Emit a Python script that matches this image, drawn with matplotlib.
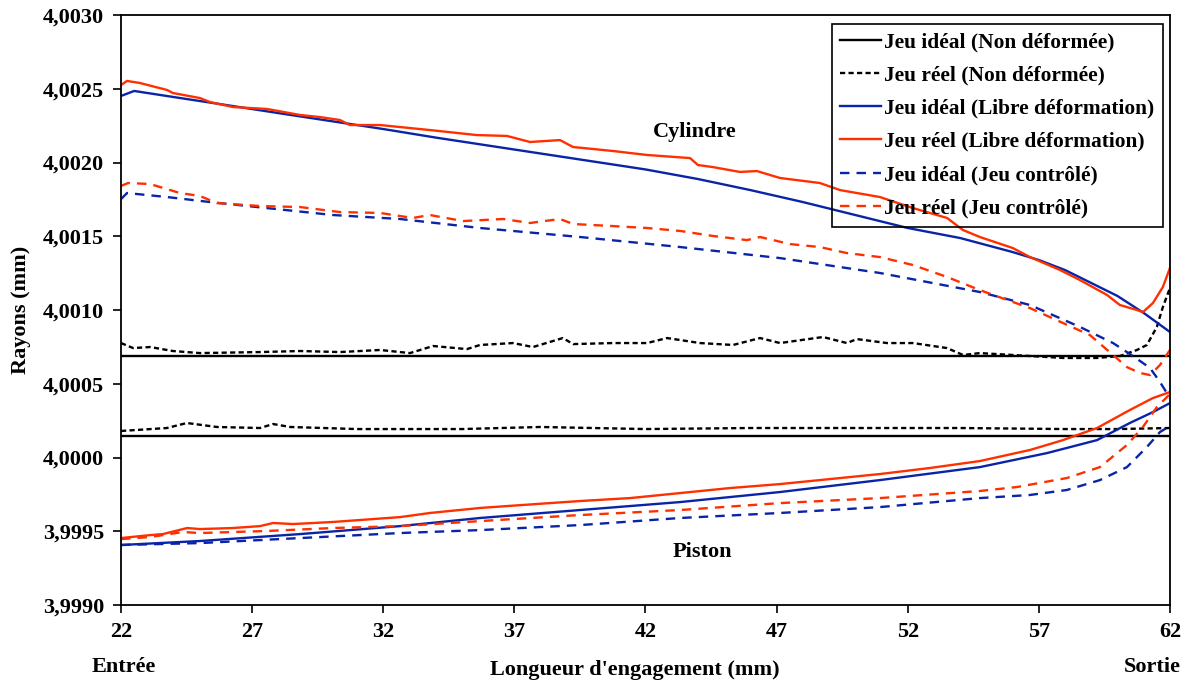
import matplotlib
matplotlib.use("Agg")
import matplotlib.pyplot as plt
from matplotlib.ticker import FuncFormatter, MultipleLocator

plt.rcParams['font.family'] = ['Liberation Serif', 'DejaVu Serif']
plt.rcParams['font.weight'] = 'bold'

# ---- data (mm) ----
x_ticks = [22, 27, 32, 37, 42, 47, 52, 57, 62]

ideal_nd_x = [22, 62]
ideal_nd_cyl = [4.000685, 4.000685]
ideal_nd_pis = [4.000143, 4.000143]

reel_nd_cyl_x = [22.00, 22.46, 23.11, 23.98, 25.01, 27.30, 28.83, 30.35, 31.88, 33.02, 33.90,
                 35.19, 35.69, 36.95, 37.71, 38.85, 39.24, 40.76, 42.06, 42.82, 44.08, 45.34,
                 46.37, 47.13, 48.77, 49.68, 50.06, 51.21, 52.20, 53.50, 54.11, 54.75, 56.01,
                 57.92, 59.22, 60.09, 60.74, 61.12, 61.50, 61.73, 62.00]
reel_nd_cyl = [4.000776, 4.000742, 4.000749, 4.000722, 4.000708, 4.000715, 4.000722, 4.000715,
               4.000729, 4.000708, 4.000756, 4.000735, 4.000763, 4.000776, 4.000749, 4.000810,
               4.000769, 4.000776, 4.000776, 4.000810, 4.000776, 4.000763, 4.000810, 4.000776,
               4.000817, 4.000776, 4.000803, 4.000776, 4.000776, 4.000742, 4.000695, 4.000708,
               4.000695, 4.000675, 4.000675, 4.000688, 4.000729, 4.000763, 4.000885, 4.001020,
               4.001149]

reel_nd_pis_x = [22.00, 23.75, 24.51, 25.66, 27.30, 27.80, 28.45, 31.0, 35.0, 38.0, 42.0,
                 46.0, 50.0, 54.0, 58.0, 60.0, 62.0]
reel_nd_pis = [4.000180, 4.000200, 4.000234, 4.000207, 4.000200, 4.000227, 4.000207, 4.000193,
               4.000193, 4.000207, 4.000193, 4.000200, 4.000200, 4.000200, 4.000193, 4.000193,
               4.000200]

ideal_lib_cyl_x = [22.0, 22.5, 24, 26, 28, 30, 32, 34, 36, 38, 40, 42, 44, 46, 48, 50, 52, 54,
                   56, 57, 58, 59, 60, 61, 62]
ideal_lib_cyl = [4.002451, 4.002485, 4.002444, 4.002390, 4.002335, 4.002281, 4.002227, 4.002169,
                 4.002115, 4.002061, 4.002007, 4.001953, 4.001888, 4.001813, 4.001732, 4.001644,
                 4.001556, 4.001488, 4.001393, 4.001339, 4.001271, 4.001183, 4.001095, 4.000980,
                 4.000851]

reel_lib_cyl_x = [22.00, 22.23, 22.72, 23.75, 23.98, 25.01, 25.39, 26.27, 27.57, 28.83, 29.59,
                  30.35, 30.73, 31.88, 33.78, 35.57, 36.72, 37.60, 38.74, 39.24, 40.76, 42.06,
                  43.70, 44.00, 44.57, 45.60, 46.25, 47.13, 48.65, 49.42, 50.94, 52.20, 53.50,
                  54.11, 54.75, 56.01, 56.66, 57.81, 58.57, 59.60, 60.09, 60.74, 60.97, 61.35,
                  61.73, 62.00]
reel_lib_cyl = [4.002525, 4.002553, 4.002539, 4.002492, 4.002471, 4.002437, 4.002410, 4.002376,
                4.002363, 4.002322, 4.002308, 4.002288, 4.002254, 4.002254, 4.002220, 4.002186,
                4.002180, 4.002139, 4.002152, 4.002105, 4.002078, 4.002051, 4.002030, 4.001983,
                4.001969, 4.001936, 4.001942, 4.001895, 4.001861, 4.001813, 4.001766, 4.001691,
                4.001624, 4.001542, 4.001495, 4.001420, 4.001359, 4.001271, 4.001203, 4.001102,
                4.001034, 4.001000, 4.000986, 4.001047, 4.001156, 4.001285]

ideal_ctl_cyl_x = [22.00, 22.23, 23.75, 25.39, 27.57, 30.08, 32.64, 35.69, 39.50, 43.32, 47.13,
                   50.94, 54.75, 56.66, 58.57, 59.83, 60.59, 61.24, 61.62, 62.00]
ideal_ctl_cyl = [4.001752, 4.001793, 4.001766, 4.001732, 4.001691, 4.001644, 4.001617, 4.001556,
                 4.001495, 4.001427, 4.001352, 4.001251, 4.001122, 4.001034, 4.000885, 4.000776,
                 4.000688, 4.000607, 4.000512, 4.000403]

reel_ctl_cyl_x = [22.00, 22.27, 23.11, 24.25, 25.01, 25.66, 27.30, 28.83, 30.35, 31.88, 33.13,
                  33.78, 35.04, 36.57, 37.60, 38.74, 39.24, 40.76, 42.06, 43.32, 44.57, 45.87,
                  46.37, 47.51, 48.65, 49.68, 50.94, 52.20, 53.50, 54.75, 56.66, 57.92, 58.95,
                  59.83, 60.36, 60.86, 61.24, 61.62, 62.00]
reel_ctl_cyl = [4.001841, 4.001861, 4.001854, 4.001793, 4.001773, 4.001725, 4.001705, 4.001698,
                4.001664, 4.001658, 4.001624, 4.001644, 4.001603, 4.001617, 4.001590, 4.001617,
                4.001583, 4.001569, 4.001556, 4.001536, 4.001502, 4.001474, 4.001495, 4.001447,
                4.001427, 4.001386, 4.001359, 4.001305, 4.001224, 4.001135, 4.001013, 4.000912,
                4.000830, 4.000695, 4.000613, 4.000573, 4.000559, 4.000627, 4.000729]

ideal_lib_pis_x = [22.00, 25.01, 28.83, 32.64, 35.69, 39.50, 43.32, 47.13, 50.94, 54.75, 57.31,
                   59.22, 60.47, 61.35, 62.00]
ideal_lib_pis = [3.999407, 3.999434, 3.999481, 3.999535, 3.999590, 3.999644, 3.999698, 3.999766,
                 3.999847, 3.999935, 4.000030, 4.000118, 4.000234, 4.000308, 4.000369]

reel_lib_pis_x = [22.00, 23.11, 23.60, 24.52, 25.01, 26.27, 27.30, 27.80, 28.56, 30.08, 32.64,
                  33.78, 35.69, 37.86, 39.50, 41.41, 43.32, 45.22, 47.13, 49.04, 50.94, 52.85,
                  54.75, 56.66, 57.92, 59.22, 60.47, 61.35, 62.00]
reel_lib_pis = [3.999454, 3.999474, 3.999481, 3.999522, 3.999515, 3.999522, 3.999535, 3.999556,
                3.999549, 3.999563, 3.999596, 3.999624, 3.999658, 3.999685, 3.999705, 3.999725,
                3.999759, 3.999793, 3.999820, 3.999854, 3.999888, 3.999929, 3.999976, 4.000051,
                4.000118, 4.000200, 4.000322, 4.000403, 4.000444]

ideal_ctl_pis_x = [22.00, 25.01, 28.83, 32.64, 35.69, 39.50, 43.32, 47.13, 50.94, 54.75, 56.66,
                   58.07, 59.33, 60.36, 61.12, 61.62, 62.00]
ideal_ctl_pis = [3.999407, 3.999420, 3.999454, 3.999488, 3.999508, 3.999542, 3.999590, 3.999624,
                 3.999664, 3.999725, 3.999746, 3.999780, 3.999847, 3.999935, 4.000071, 4.000173,
                 4.000213]

reel_ctl_pis_x = [22.00, 23.11, 24.36, 25.01, 27.57, 30.08, 32.64, 35.69, 39.50, 43.32, 47.13,
                  50.94, 54.75, 56.17, 58.07, 59.33, 60.36, 60.97, 61.50, 62.00]
reel_ctl_pis = [3.999447, 3.999461, 3.999495, 3.999488, 3.999502, 3.999522, 3.999535, 3.999569,
                3.999610, 3.999644, 3.999691, 3.999725, 3.999773, 3.999800, 3.999861, 3.999935,
                4.000085, 4.000207, 4.000342, 4.000430]

labels = ["Jeu idéal (Non déformée)", "Jeu réel (Non déformée)",
          "Jeu idéal (Libre déformation)", "Jeu réel (Libre déformation)",
          "Jeu idéal (Jeu contrôlé)", "Jeu réel (Jeu contrôlé)"]

BLUE = '#0a24a8'
RED = '#ff3000'
lw = 1.7
dash_black = (0, (2.2, 1.4))
dash_color = (0, (4.0, 3.0))

fig = plt.figure(figsize=(11.97, 6.88), dpi=100)
ax = fig.add_axes([0.1011, 0.1206, 0.8763, 0.8576])

# cylinder (upper) and piston (lower) for each case
l1, = ax.plot(ideal_nd_x, ideal_nd_cyl, color='black', lw=lw, label=labels[0])
ax.plot(ideal_nd_x, ideal_nd_pis, color='black', lw=lw)
l2, = ax.plot(reel_nd_cyl_x, reel_nd_cyl, color='black', lw=lw, ls=dash_black, label=labels[1])
ax.plot(reel_nd_pis_x, reel_nd_pis, color='black', lw=lw, ls=dash_black)
l3, = ax.plot(ideal_lib_cyl_x, ideal_lib_cyl, color=BLUE, lw=lw, label=labels[2])
ax.plot(ideal_lib_pis_x, ideal_lib_pis, color=BLUE, lw=lw)
l4, = ax.plot(reel_lib_cyl_x, reel_lib_cyl, color=RED, lw=lw, label=labels[3])
ax.plot(reel_lib_pis_x, reel_lib_pis, color=RED, lw=lw)
l5, = ax.plot(ideal_ctl_cyl_x, ideal_ctl_cyl, color=BLUE, lw=lw, ls=dash_color, label=labels[4])
ax.plot(ideal_ctl_pis_x, ideal_ctl_pis, color=BLUE, lw=lw, ls=dash_color)
l6, = ax.plot(reel_ctl_cyl_x, reel_ctl_cyl, color=RED, lw=lw, ls=dash_color, label=labels[5])
ax.plot(reel_ctl_pis_x, reel_ctl_pis, color=RED, lw=lw, ls=dash_color)

ax.set_xlim(22, 62)
ax.set_ylim(3.9990, 4.0030)
ax.set_xticks(x_ticks)
ax.yaxis.set_major_locator(MultipleLocator(0.0005))
ax.yaxis.set_major_formatter(FuncFormatter(lambda v, p: f"{v:.4f}".replace('.', ',')))
ax.tick_params(direction='out', length=6, width=1.2, labelsize=16, pad=6)
for lab in ax.get_xticklabels() + ax.get_yticklabels():
    lab.set_fontweight('bold')
for s in ax.spines.values():
    s.set_linewidth(1.3)

# transparent legend box with a black border
leg = ax.legend(handles=[l1, l2, l3, l4, l5, l6], loc='upper right',
                bbox_to_anchor=(0.9933, 0.9855), fontsize=15.4, frameon=True,
                fancybox=False, handlelength=1.9, handletextpad=0.15, labelspacing=0.62,
                borderpad=0.4, borderaxespad=0)
frame = leg.get_frame()
frame.set_alpha(None)
frame.set_facecolor('none')
frame.set_edgecolor('black')
frame.set_linewidth(1.2)
for t in leg.get_texts():
    t.set_fontweight('bold')

ax.text(43.89, 4.002207, "Cylindre", fontsize=16, fontweight='bold', ha='center', va='center')
ax.text(44.15, 3.999359, "Piston", fontsize=16, fontweight='bold', ha='center', va='center')

fig.text(0.0175, 0.55, "Rayons (mm)", rotation=90, fontsize=16, fontweight='bold',
         ha='center', va='center')
fig.text(0.530, 0.026, "Longueur d'engagement (mm)", fontsize=16, fontweight='bold',
         ha='center', va='center')
fig.text(0.1036, 0.030, "Entrée", fontsize=16, fontweight='bold', ha='center', va='center')
fig.text(0.9624, 0.030, "Sortie", fontsize=16, fontweight='bold', ha='center', va='center')

fig.savefig("out.png", dpi=100)
